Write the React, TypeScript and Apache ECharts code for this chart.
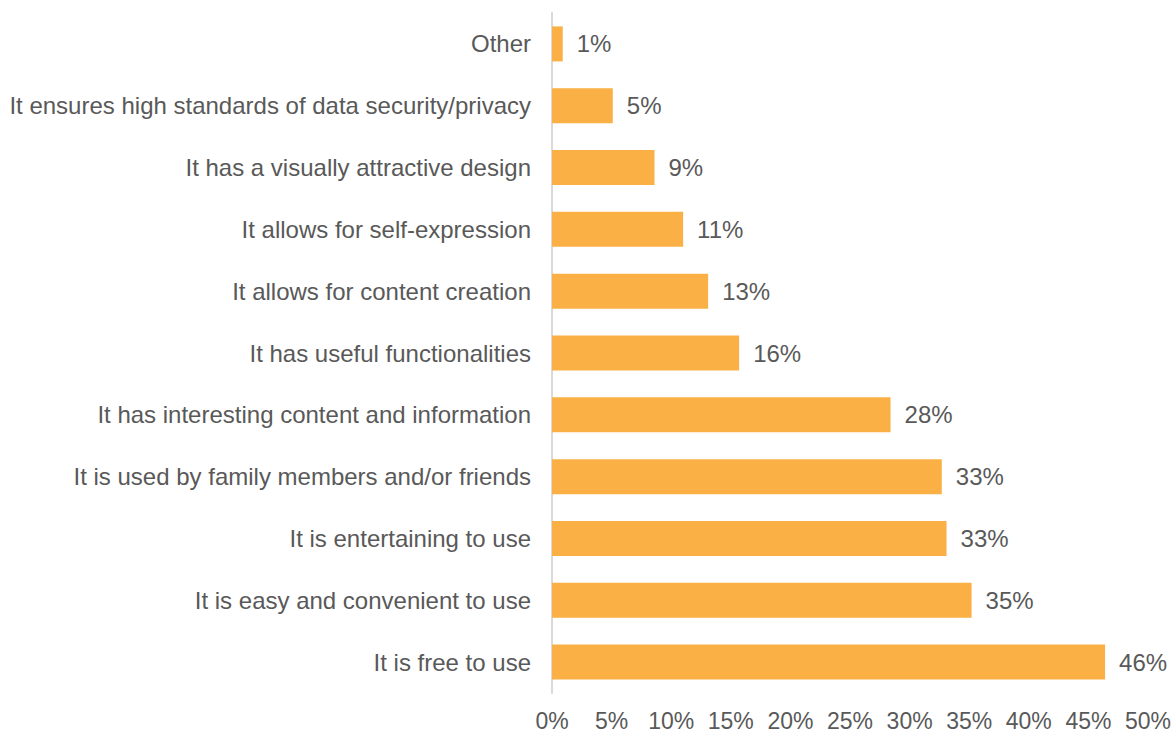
import React, { useEffect, useRef } from "react";
import * as echarts from "echarts";

const categories: string[] = [
  "Other",
  "It ensures high standards of data security/privacy",
  "It has a visually attractive design",
  "It allows for self-expression",
  "It allows for content creation",
  "It has useful functionalities",
  "It has interesting content and information",
  "It is used by family members and/or friends",
  "It is entertaining to use",
  "It is easy and convenient to use",
  "It is free to use",
];

const values: number[] = [0.9, 5.1, 8.6, 11.0, 13.1, 15.7, 28.4, 32.7, 33.1, 35.2, 46.4];

const axisMin = 0;
const axisMax = 50;
const axisStep = 5;

const TEXT = "#595959";
const FONT = "'Liberation Sans', Arial, sans-serif";

export default function App() {
  const ref = useRef<HTMLDivElement>(null);
  useEffect(() => {
    if (!ref.current) return;
    const chart = echarts.init(ref.current, undefined, { renderer: "svg" });
    chart.setOption({
      animation: false,
      backgroundColor: "#ffffff",
      grid: { left: 552, right: 28, top: 13, bottom: 40, containLabel: false },
      xAxis: {
        type: "value",
        min: axisMin,
        max: axisMax,
        interval: axisStep,
        axisLine: { show: false },
        axisTick: { show: false },
        splitLine: { show: false },
        axisLabel: {
          formatter: (v: number) => `${v}%`,
          color: TEXT,
          fontSize: 23,
          fontFamily: FONT,
          margin: 16,
        },
      },
      yAxis: {
        type: "category",
        data: categories,
        inverse: true,
        axisLine: { show: true, lineStyle: { color: "#d9d9d9", width: 2 } },
        axisTick: { show: false },
        axisLabel: {
          color: TEXT,
          fontSize: 24,
          fontFamily: FONT,
          margin: 21,
        },
      },
      series: [
        {
          type: "bar",
          data: values,
          barWidth: 35,
          itemStyle: { color: "#FAB044" },
          label: {
            show: true,
            position: "right",
            distance: 14,
            formatter: (p: any) => `${Math.round(p.value)}%`,
            color: TEXT,
            fontSize: 24,
            fontFamily: FONT,
          },
        },
      ],
    });
    return () => chart.dispose();
  }, []);
  return (
    <div
      ref={ref}
      style={{ position: "fixed", left: 0, top: 0, width: 1176, height: 733 }}
    />
  );
}
